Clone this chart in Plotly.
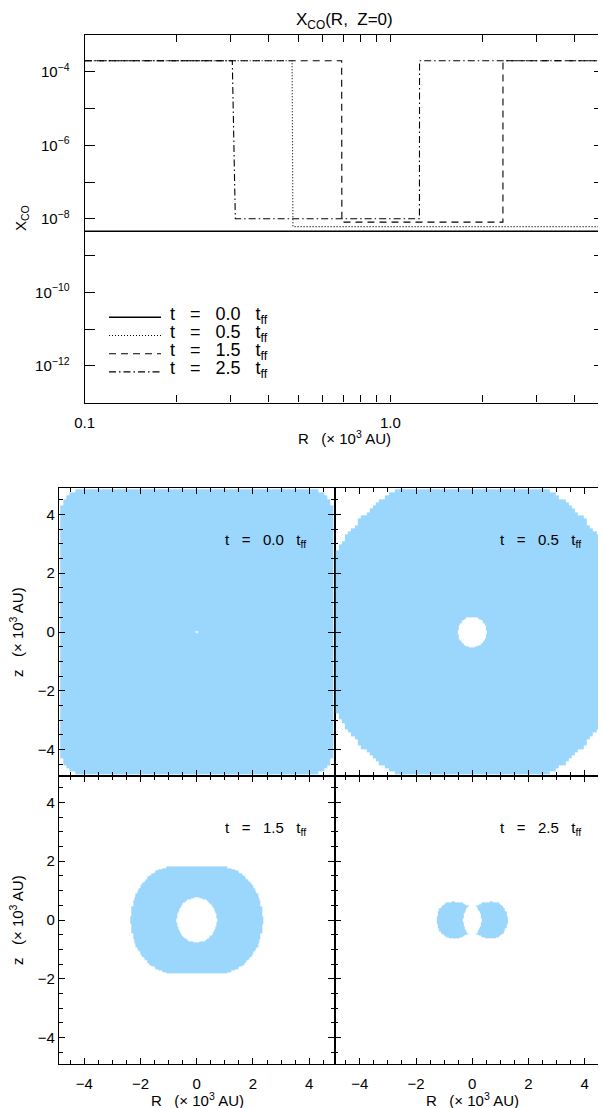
import numpy as np
import plotly.graph_objects as go

# ---- top panel: X_CO along the midplane (step profiles)
r_t00 = [0.1, 5.0]
x_t00 = [4.6e-9, 4.6e-9]

r_t05 = [0.1, 0.477, 0.48, 5.0]
x_t05 = [2.0e-4, 2.0e-4, 6.1e-9, 6.1e-9]

r_t15 = [0.1, 0.693, 0.694, 2.335, 2.336, 5.0]
x_t15 = [2.0e-4, 2.0e-4, 8.1e-9, 8.1e-9, 2.0e-4, 2.0e-4]

r_t25 = [0.1, 0.304, 0.311, 1.245, 1.246, 5.0]
x_t25 = [2.0e-4, 2.0e-4, 1.0e-8, 1.0e-8, 2.0e-4, 2.0e-4]

SP = "\u00a0\u00a0\u00a0"
labels = ["t" + SP + "=" + SP + "0.0" + SP + "t<sub>ff</sub>",
          "t" + SP + "=" + SP + "0.5" + SP + "t<sub>ff</sub>",
          "t" + SP + "=" + SP + "1.5" + SP + "t<sub>ff</sub>",
          "t" + SP + "=" + SP + "2.5" + SP + "t<sub>ff</sub>"]
dashes = ["solid", "1px,2px", "7px,5px", "7px,3px,1.5px,3px"]
widths = [1.5, 1.1, 1.1, 1.1]

# ---- bottom panels: where CO is in the gas phase (quadrant outlines, x>=0, z>=0, in 10^3 AU)
out_t00 = [(4.85, 0), (4.85, 4.1), (4.72, 4.5), (4.5, 4.72), (4.16, 4.85), (0, 4.85)]
hole_t00 = [(0.03, 0), (0, 0.03)]

out_t05 = [(4.85, 0), (4.85, 2.72), (4.5, 3.25), (4.0, 3.85), (3.5, 4.3), (3.0, 4.66), (2.67, 4.85), (0, 4.85)]
hole_t05 = [(0.51, 0), (0.48, 0.2), (0.37, 0.37), (0.2, 0.48), (0, 0.52)]

out_t15 = [(2.36, 0), (2.34, 0.3), (2.27, 0.6), (2.15, 0.92), (1.97, 1.2), (1.75, 1.45),
           (1.47, 1.66), (1.15, 1.79), (0.8, 1.84), (0, 1.84)]
hole_t15 = [(0.71, 0), (0.66, 0.3), (0.5, 0.55), (0.3, 0.71), (0, 0.77)]

out_t25 = [(1.27, 0), (1.24, 0.22), (1.13, 0.42), (0.95, 0.57), (0.72, 0.63), (0.5, 0.62), (0.3, 0.56), (0.17, 0.48), (0, 0.48)]
hole_t25 = [(0.34, 0), (0.3, 0.15), (0.25, 0.3), (0.15, 0.47), (0, 0.55)]

panel_text = labels
panels = [(out_t00, hole_t00), (out_t05, hole_t05), (out_t15, hole_t15), (out_t25, hole_t25)]

# cell centres: coarse outside, finer towards the centre
g_pos = np.concatenate([np.arange(0, 1.0, 0.025), np.arange(1.0, 2.6, 0.05), np.arange(2.6, 4.9001, 0.11)])
g_pos = np.round(g_pos, 3)
grid = np.concatenate([-g_pos[:0:-1], g_pos])

BLUE = "#9bd6fc"
FONT = "Liberation Sans"
OFF = 8  # the page body margin
W, H = 606 - OFF, 1108 - OFF


def full_outline(q):
    q = np.asarray(q, float)
    return np.vstack([q, q[::-1] * [-1, 1], q * [-1, -1], q[::-1] * [1, -1]])


def inside(poly, X, Z):
    res = np.zeros(X.shape, bool)
    for i in range(len(poly)):
        x1, z1 = poly[i]
        x2, z2 = poly[i - 1]
        if z2 == z1:
            continue
        cross = (z1 > Z) != (z2 > Z)
        xint = (x2 - x1) * (Z - z1) / (z2 - z1) + x1
        res ^= cross & (X < xint)
    return res


def px(a):
    return (a - OFF) / W


def py(b):
    return 1 - (b - OFF) / H


def dx(a, b):
    return [px(a), min(px(b), 1)]


def dy(top, bottom):
    return [py(bottom), py(top)]


fig = go.Figure()

# top panel lines
for r, x, d, w in zip([r_t00, r_t05, r_t15, r_t25], [x_t00, x_t05, x_t15, x_t25], dashes, widths):
    fig.add_trace(go.Scatter(x=r, y=x, mode="lines", line=dict(color="black", width=w, dash=d),
                             showlegend=False, xaxis="x", yaxis="y"))

# bottom panels
X, Z = np.meshgrid(grid, grid)
for k, (outer, hole) in enumerate(panels):
    mask = inside(full_outline(outer), X, Z) & ~inside(full_outline(hole), X, Z)
    zz = np.where(mask, 1.0, np.nan)
    fig.add_trace(go.Heatmap(x=grid, y=grid, z=zz, zmin=0, zmax=1,
                             colorscale=[[0, BLUE], [1, BLUE]], showscale=False,
                             hoverinfo="skip", xaxis="x%d" % (k + 2), yaxis="y%d" % (k + 2)))

axis_common = dict(showline=True, linecolor="black", linewidth=1.2, mirror="ticks",
                   ticks="inside", tickcolor="black", showgrid=False, zeroline=False,
                   automargin=False, tickfont=dict(family=FONT, size=15, color="black"))

dec = [10.0 ** e for e in range(-13, -2)]
dec_txt = ["10<sup>\u2212%d</sup>" % -e if e in (-4, -6, -8, -10, -12) else "" for e in range(-13, -2)]
rt = [0.1, 0.2, 0.3, 0.4, 0.5, 0.6, 0.7, 0.8, 0.9, 1, 2, 3, 4, 5]
rt_txt = ["0.1", "", "", "", "", "", "", "", "", "1.0", "", "", "", ""]

layout = dict(
    template="none",
    width=W, height=H, margin=dict(l=0, r=0, t=0, b=0, autoexpand=False),
    paper_bgcolor="white", plot_bgcolor="white", showlegend=False,
    font=dict(family=FONT, color="black"),
    xaxis=dict(axis_common, type="log", range=[-1, np.log10(5.0)], domain=dx(84.7, 604),
               tickvals=rt, ticktext=rt_txt, ticklen=7, anchor="y", ticklabelstandoff=6),
    yaxis=dict(axis_common, type="log", range=[-13, -3], domain=dy(35, 402.5),
               tickvals=dec, ticktext=dec_txt, ticklen=10, anchor="x", ticklabelstandoff=11),
)

xdoms = [dx(59, 334.5), dx(334.5, 606)]
ydoms = [dy(488, 776), dy(776, 1064)]
for k in range(4):
    row, col = divmod(k, 2)
    n = k + 2
    xr = [-4.9, 4.9] if col == 0 else [-4.9, 4.76]
    layout["xaxis%d" % n] = dict(axis_common, range=xr, domain=xdoms[col], anchor="y%d" % n,
                                 tickvals=[-4, -2, 0, 2, 4], ticktext=["\u22124", "\u22122", "0", "2", "4"],
                                 ticklen=6, showticklabels=(row == 1), ticklabelstandoff=6,
                                 minor=dict(dtick=0.5, tick0=0, ticklen=3.5, ticks="inside", tickcolor="black"))
    layout["yaxis%d" % n] = dict(axis_common, range=[-4.9, 4.9], domain=ydoms[row], anchor="x%d" % n,
                                 tickvals=[-4, -2, 0, 2, 4], ticktext=["\u22124", "\u22122", "0", "2", "4"],
                                 ticklen=6, showticklabels=(col == 0),
                                 minor=dict(dtick=0.5, tick0=0, ticklen=3.5, ticks="inside", tickcolor="black"))

fig.update_layout(layout)

ann = []
shapes = []


def note(text, x, y, size=15, angle=0, xanchor="center"):
    ann.append(dict(text=text, x=px(x), y=py(y), xref="paper", yref="paper", showarrow=False,
                    textangle=angle, xanchor=xanchor, yanchor="middle", font=dict(size=size)))


# title and axis titles of the top panel
note("X<sub>CO</sub>(R,\u00a0 Z=0)", 344, 21, size=17)
note("R\u00a0\u00a0 (\u00d7 10<sup>3</sup> AU)", 344, 437)
note("X<sub>CO</sub>", 21, 218, angle=-90)

# legend of the top panel
for i, (lab, d, w) in enumerate(zip(labels, dashes, widths)):
    yl = 317.3 + i * 18.2
    shapes.append(dict(type="line", xref="paper", yref="paper", x0=px(109), x1=px(161),
                       y0=py(yl), y1=py(yl), line=dict(color="black", width=w, dash=d)))
    note(lab, 168, yl - 2, size=18, xanchor="left")

# labels in the four panels
for k in range(4):
    n = k + 2
    ann.append(dict(text=panel_text[k], x=3.95, y=3.1, xref="x%d" % n, yref="y%d" % n,
                    xanchor="right", yanchor="middle", showarrow=False, font=dict(size=15)))

for cy in (632, 920):
    note("z\u00a0\u00a0 (\u00d7 10<sup>3</sup> AU)", 16, cy, angle=-90)
for cx in (197, 472):
    note("R\u00a0\u00a0 (\u00d7 10<sup>3</sup> AU)", cx, 1099)

fig.update_layout(annotations=ann, shapes=shapes)
fig.write_html("out.html")
